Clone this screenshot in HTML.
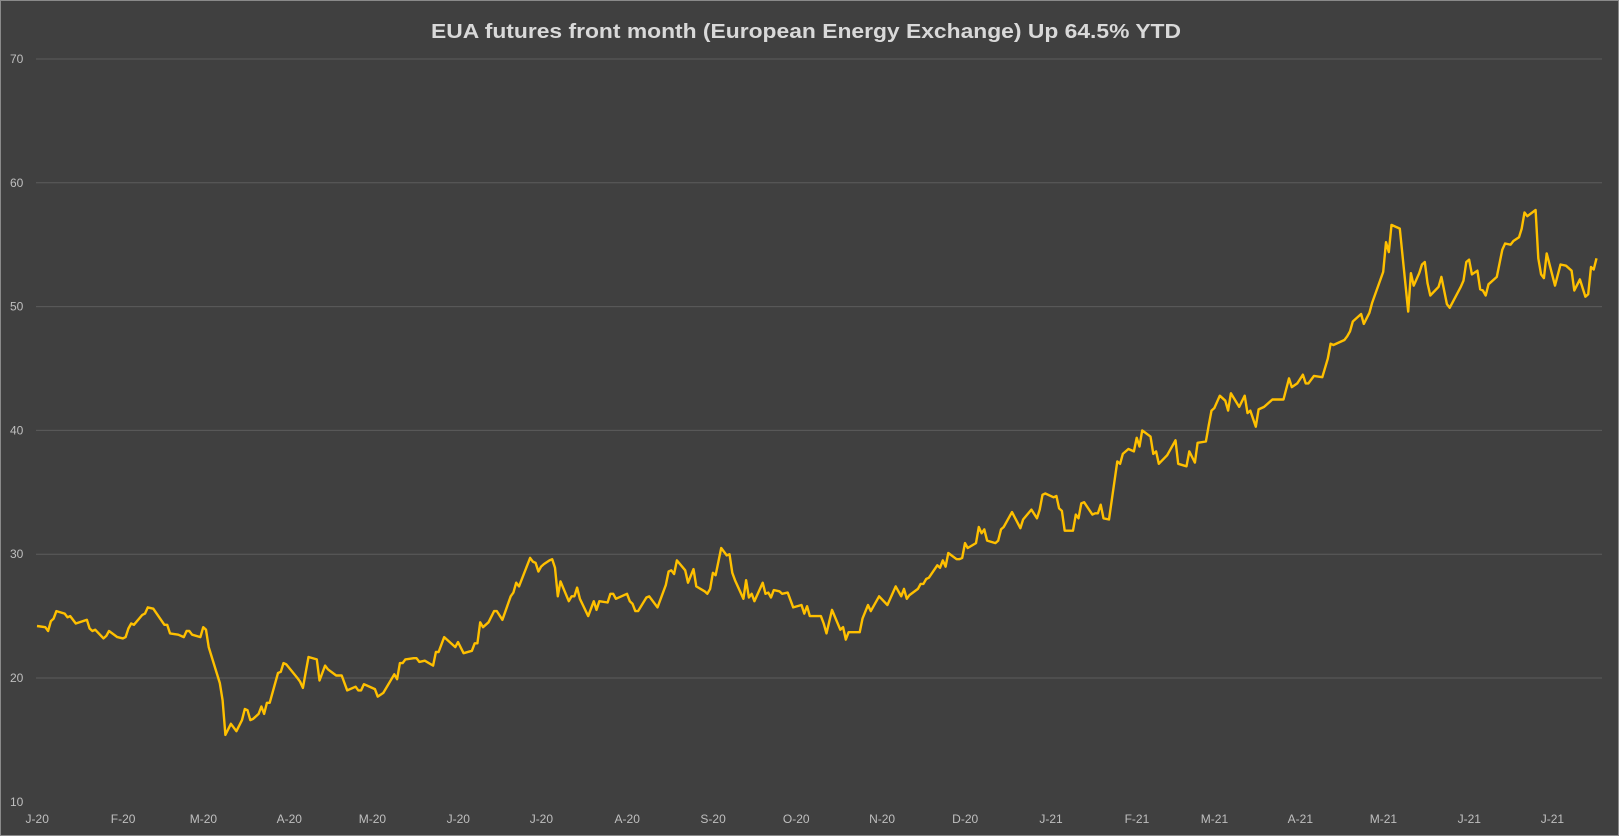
<!DOCTYPE html>
<html><head><meta charset="utf-8"><style>
html,body{margin:0;padding:0;background:#404040;}
svg{display:block;}
</style></head><body>
<svg id="chart" width="1619" height="836" viewBox="0 0 1619 836" xmlns="http://www.w3.org/2000/svg">
<rect x="0.5" y="0.5" width="1618" height="835" fill="#404040" stroke="#8a8a8a" stroke-width="1"/>
<text x="806" y="38" text-anchor="middle" font-family="'Liberation Sans', sans-serif" font-weight="bold" font-size="20" fill="#d9d9d9" textLength="750" lengthAdjust="spacingAndGlyphs">EUA futures front month (European Energy Exchange) Up 64.5% YTD</text>
<g id="grid"></g><g id="yticks"></g><g id="xticks"></g><g id="series"></g>
</svg>
<script>
const yTicks=[70,60,50,40,30,20,10];
const monthLabels=["J-20","F-20","M-20","A-20","M-20","J-20","J-20","A-20","S-20","O-20","N-20","D-20","J-21","F-21","M-21","A-21","M-21","J-21","J-21"];
const monthDays=[-1,30,59,90,120,151,181,212,243,273,304,334,365,396,424,455,485,516,546];
const days=[0,3,4,5,6,7,10,11,12,14,18,19,20,21,24,25,26,29,31,32,33,34,35,38,39,40,42,46,47,48,51,53,54,55,56,59,60,61,62,66,67,68,70,72,74,75,76,77,78,80,81,82,83,84,87,88,89,90,94,95,96,98,101,102,104,105,108,110,112,115,116,117,118,119,122,123,125,129,130,131,132,133,136,137,138,140,143,144,145,147,151,152,154,157,158,159,160,161,163,165,166,168,171,172,173,174,178,179,180,181,182,183,185,186,187,188,189,192,193,194,195,196,199,201,202,203,206,207,208,209,213,214,215,216,217,220,221,224,227,228,229,230,231,234,235,237,238,241,242,243,244,245,247,249,250,251,252,255,256,257,258,259,262,263,264,265,266,268,269,271,273,276,277,278,279,280,283,284,285,287,290,291,292,293,297,298,300,301,304,307,310,312,313,314,315,318,319,320,321,322,325,326,327,328,329,332,333,334,335,336,339,340,341,342,343,346,347,348,349,352,355,356,359,361,362,363,364,367,368,369,370,371,374,375,376,377,378,381,382,383,384,385,387,390,391,392,394,396,397,398,399,402,403,404,405,408,411,412,415,416,418,419,422,423,424,425,427,429,430,431,434,436,437,438,440,441,443,446,450,452,453,455,457,458,459,461,464,466,467,468,472,473,474,475,478,479,481,482,486,487,488,489,492,495,496,497,499,500,501,502,503,506,507,509,510,514,515,516,517,518,520,521,522,523,524,527,529,530,532,533,535,536,537,538,541,542,543,544,545,548,550,552,554,555,557,559,560,561,562,563];
const prices=[24.2,24.1,23.8,24.6,24.8,25.4,25.2,24.9,25.0,24.4,24.7,24.0,23.8,23.9,23.2,23.4,23.8,23.3,23.2,23.3,24.0,24.4,24.3,25.1,25.2,25.7,25.6,24.3,24.3,23.6,23.5,23.3,23.8,23.8,23.5,23.3,24.1,23.9,22.5,19.6,18.2,15.4,16.3,15.7,16.6,17.5,17.4,16.6,16.7,17.1,17.7,17.1,18.0,18.0,20.4,20.5,21.2,21.1,20.0,19.7,19.2,21.7,21.5,19.8,21.0,20.7,20.2,20.2,19.0,19.3,19.0,19.0,19.5,19.4,19.1,18.5,18.8,20.3,19.9,21.2,21.2,21.5,21.6,21.6,21.3,21.4,21.0,22.1,22.1,23.3,22.5,22.9,22.0,22.2,22.8,22.8,24.5,24.1,24.5,25.4,25.4,24.7,26.6,26.9,27.7,27.4,29.7,29.4,29.3,28.6,29.0,29.2,29.5,29.6,28.9,26.6,27.8,26.2,26.6,26.6,27.3,26.4,25.0,26.2,25.5,26.2,26.1,26.8,26.8,26.4,26.8,26.2,26.0,25.4,25.4,26.5,26.6,25.7,27.5,28.6,28.7,28.4,29.5,28.7,27.7,28.8,27.4,27.0,26.8,27.2,28.5,28.3,30.5,29.9,30.0,28.5,27.9,26.4,27.9,26.5,26.8,26.2,27.7,26.8,26.9,26.5,27.1,27.0,26.8,26.9,25.7,25.9,25.2,25.8,25.0,25.0,25.0,24.4,23.6,25.5,23.9,24.1,23.1,23.7,23.7,24.8,25.9,25.4,26.6,25.9,27.4,26.6,27.2,26.4,26.7,27.2,27.6,27.6,28.0,28.1,29.1,28.9,29.5,29.0,30.1,29.6,29.6,29.7,30.9,30.5,30.9,32.2,31.7,32.0,31.1,30.9,31.1,32.0,32.2,33.4,32.1,32.8,33.6,32.9,33.6,34.8,34.9,34.6,34.7,33.7,33.5,31.9,31.9,33.2,32.9,34.1,34.2,33.2,33.3,33.3,34.0,32.9,32.8,37.5,37.3,38.1,38.5,38.3,39.4,38.7,40.0,39.5,38.1,38.3,37.3,38.0,39.2,37.3,37.1,38.3,37.4,39.0,39.1,40.4,41.6,41.8,42.8,42.4,41.6,43.0,41.9,42.8,41.4,41.6,40.3,41.7,41.9,42.5,42.5,44.2,43.5,43.8,44.5,43.8,43.8,44.4,44.3,45.8,47.0,46.9,47.3,47.6,48.0,48.8,49.4,48.6,49.5,50.3,52.8,55.2,54.4,56.6,56.3,49.6,52.7,51.7,52.7,53.4,53.6,51.9,50.9,51.6,52.4,50.2,49.9,51.6,52.1,53.6,53.8,52.6,52.9,51.4,51.3,50.9,51.8,52.4,54.6,55.1,55.0,55.3,55.6,56.3,57.6,57.3,57.8,53.9,52.6,52.3,54.3,51.7,53.4,53.3,52.9,51.3,52.2,50.8,51.0,53.2,53.0,53.9];

const NS="http://www.w3.org/2000/svg";
const X0=37, PX_PER_DAY=2.77, Y70=59, PX_PER_UNIT=12.38, XR=1602;
function xScale(d){return X0+d*PX_PER_DAY;}
function yScale(v){return Y70+(70-v)*PX_PER_UNIT;}
function mk(tag,attrs,parent){const e=document.createElementNS(NS,tag);for(const k in attrs)e.setAttribute(k,attrs[k]);parent.appendChild(e);return e;}

const grid=document.getElementById('grid'), yt=document.getElementById('yticks'), xt=document.getElementById('xticks'), ser=document.getElementById('series');
yTicks.forEach(v=>{
  const y=yScale(v);
  if(v!==10){
    const l=mk('line',{x1:36,x2:XR,y1:y,y2:y,stroke:'#5c5c5c','stroke-width':1},grid);
    
    
  }
  const t=mk('text',{x:10,y:y+4,'font-family':"'Liberation Sans', sans-serif",'font-size':12,fill:'#bfbfbf'},yt);
  t.textContent=v;
  
  
});
monthLabels.forEach((m,i)=>{
  const t=mk('text',{x:xScale(monthDays[i])+3,y:823,'text-anchor':'middle','font-family':"'Liberation Sans', sans-serif",'font-size':12,fill:'#bfbfbf'},xt);
  t.textContent=m;
  
  
});
let d='';
days.forEach((dd,i)=>{d+=(i?'L':'M')+xScale(dd).toFixed(1)+','+yScale(prices[i]).toFixed(1);});
const p=mk('path',{d:d,fill:'none',stroke:'#FFC000','stroke-width':2.4,'stroke-linejoin':'round'},ser);


</script>
</body></html>
